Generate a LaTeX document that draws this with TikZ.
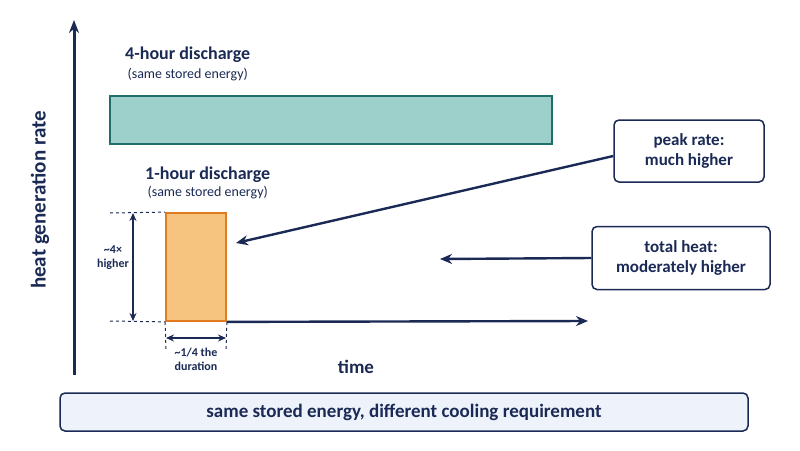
\documentclass[tikz,border=0pt]{standalone}
\usepackage{fontspec}
\setmainfont{Carlito}
\usetikzlibrary{arrows.meta}
\definecolor{navy}{HTML}{1A2A55}
\definecolor{tealfill}{HTML}{9DD0CB}
\definecolor{tealline}{HTML}{1F6F6A}
\definecolor{orfill}{HTML}{F6C47E}
\definecolor{orline}{HTML}{E07B20}
\definecolor{paleblue}{HTML}{EEF3FB}
\newcommand\fs[1]{\fontsize{#1}{\numexpr#1*6/5\relax}\selectfont}
\begin{document}
\begin{tikzpicture}[x=1pt,y=-1pt,
  txt/.style={text=navy,font=\bfseries,align=center,inner sep=1pt},
  sub/.style={text=navy,font=\fs{14}},
  callout/.style={draw=navy,line width=1.5pt,rounded corners=5pt,fill=white,txt,font=\bfseries\fs{17}},
  conn/.style={navy,line width=2.4pt,-{Stealth[length=12pt,width=10pt]}},
  dim/.style={navy,line width=1.5pt,{Stealth[length=8pt,width=7pt]}-{Stealth[length=8pt,width=7pt]}},
  guide/.style={navy,dashed,line width=1pt}]
\useasboundingbox (0,0) rectangle (800,450);
% axes
\coordinate (origin) at (74,375);
\coordinate (ytop) at (74,20);
\draw [navy,line width=3pt,-{Stealth[length=13pt,width=10pt]}] (origin) -- (ytop);
\node [txt,font=\bfseries\fs{21},rotate=90] (ylabel) at (40,200) {heat generation rate};
\node [txt,font=\bfseries\fs{19}] (timelabel) at (356,367) {time};
% 4-hour bar
\node [txt,font=\bfseries\fs{18},anchor=west] (fourh) at (124,55) {4-hour discharge};
\node [sub,anchor=west] (foursub) at (124,75) {(same stored energy)};
\draw [fill=tealfill,draw=tealline,line width=1.5pt] (110,96) rectangle (552,144);
% 1-hour bar
\node [txt,font=\bfseries\fs{18},anchor=west] (oneh) at (144,175) {1-hour discharge};
\node [sub,anchor=west] (onesub) at (144,193) {(same stored energy)};
\node [draw=orline,fill=orfill,line width=1.8pt,minimum width=60pt,minimum height=108pt,inner sep=0pt] (onebar) at (196,267) {};
\coordinate (tend) at (588,321);
\draw [conn] (onebar.south east) -- (tend);
% dimensions
\coordinate (hl) at (110,213);
\coordinate (ll) at (110,321);
\draw [guide] (hl) -- (onebar.north west);
\draw [guide] (ll) -- (onebar.south west);
\draw [dim] (133,213) -- (133,321);
\node [txt,font=\bfseries\fs{12},fill=white] (fourx) at (113,258) {\textasciitilde4×\\higher};
\coordinate (dl) at (166,350);
\coordinate (dr) at (226,350);
\draw [guide] (onebar.south west) -- (dl);
\draw [guide] (onebar.south east) -- (dr);
\draw [dim] (166,338) -- (226,338);
\node [txt,font=\bfseries\fs{12}] (quarter) at (196,359) {\textasciitilde1/4 the\\duration};
% callouts
\node [callout,minimum width=150pt,minimum height=62pt] (peak) at (689,151) {peak rate:\\much higher};
\node [callout,minimum width=178pt,minimum height=63pt] (total) at (681,258) {total heat:\\moderately higher};
\coordinate (peaktip) at (236,243);
\coordinate (totaltip) at (440,259);
\draw [conn] (peak.west |- 0,156) -- (peaktip);
\draw [conn] (total.west) -- (totaltip);
% summary
\node [draw=navy,line width=1.5pt,rounded corners=5pt,fill=paleblue,txt,font=\bfseries\fs{19},minimum width=688pt,minimum height=38pt] (summary) at (404,412) {same stored energy, different cooling requirement};
\end{tikzpicture}
\end{document}
